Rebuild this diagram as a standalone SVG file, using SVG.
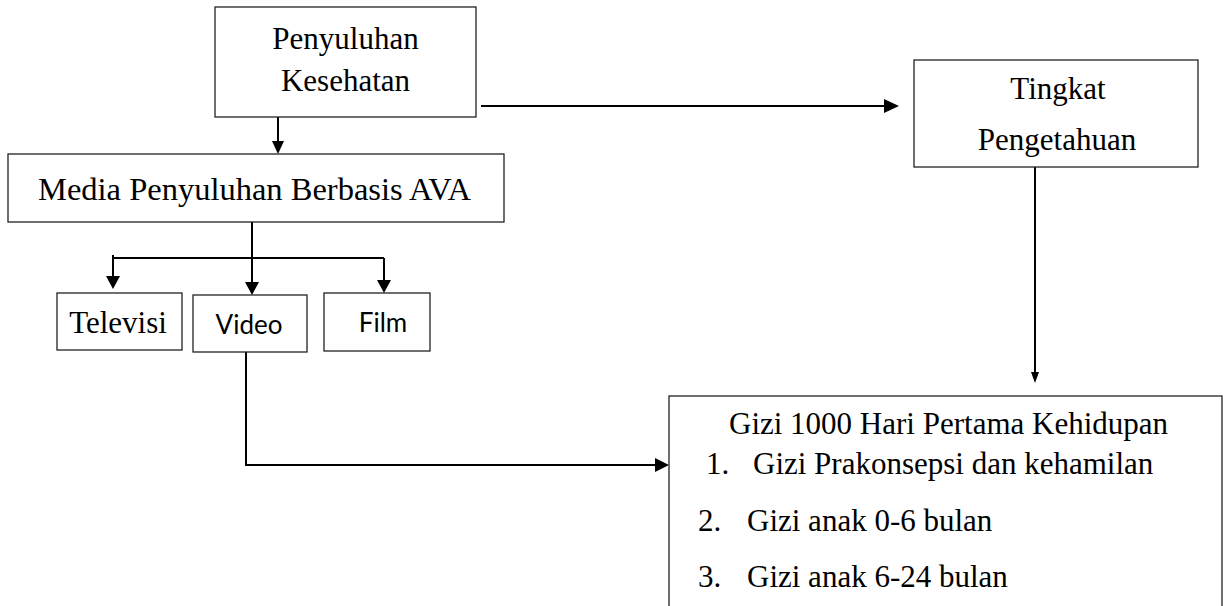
<svg xmlns="http://www.w3.org/2000/svg" width="1225" height="606" viewBox="0 0 1225 606">
<style>
.box{fill:#fff;stroke:#222;stroke-width:1.3}
.t{font-family:"Liberation Serif","Times New Roman",serif;font-size:31px;fill:#000}
.s{font-family:Lato,"Open Sans",sans-serif;font-size:26px;fill:#000}
.c{text-anchor:middle}
.ln{stroke:#000;fill:none;stroke-width:2}
.ah{fill:#000}
</style>
<rect width="1225" height="606" fill="#fff"/>
<g id="connectors">
<line class="ln" x1="278" y1="117" x2="278" y2="142" stroke-width="1.5"/>
<polygon class="ah" points="272,141 284,141 278,154"/>
<line class="ln" x1="481" y1="106" x2="886" y2="106" stroke-width="3"/>
<polygon class="ah" points="884,99 884,113 899,106"/>
<line class="ln" x1="252" y1="222" x2="252" y2="258"/>
<line class="ln" x1="113" y1="258" x2="384" y2="258"/>
<line class="ln" x1="113" y1="255" x2="113" y2="278"/>
<polygon class="ah" points="106,276 120,276 113,289"/>
<line class="ln" x1="252" y1="258" x2="252" y2="283" stroke-width="2.5"/>
<polygon class="ah" points="245,282 259,282 252,295"/>
<line class="ln" x1="384" y1="258" x2="384" y2="281"/>
<polygon class="ah" points="377,280 391,280 384,293"/>
<line class="ln" x1="1035" y1="167" x2="1035" y2="373" stroke-width="1.3"/>
<polygon class="ah" points="1031,372 1039,372 1035,383"/>
<polyline class="ln" points="246,352 246,465 656,465"/>
<polygon class="ah" points="655,458 655,472 669,465"/>
</g>
<g id="penyuluhan">
<rect class="box" x="215" y="7" width="261" height="110"/>
<text class="t c" x="345.5" y="49">Penyuluhan</text>
<text class="t c" x="345.5" y="91">Kesehatan</text>
</g>
<g id="media">
<rect class="box" x="8" y="154" width="496" height="68"/>
<text class="t c" x="254.5" y="200" style="font-size:32.5px">Media Penyuluhan Berbasis AVA</text>
</g>
<g id="televisi">
<rect class="box" x="57" y="293" width="125" height="57"/>
<text class="t c" x="118" y="333">Televisi</text>
</g>
<g id="video">
<rect class="box" x="193" y="295" width="114" height="57"/>
<text class="s c" x="249" y="334">Video</text>
</g>
<g id="film">
<rect class="box" x="324" y="293" width="106" height="58"/>
<text class="s c" x="383" y="332">Film</text>
</g>
<g id="tingkat">
<rect class="box" x="914" y="60" width="284" height="107"/>
<text class="t c" x="1058" y="99">Tingkat</text>
<text class="t c" x="1057" y="150">Pengetahuan</text>
</g>
<g id="gizi">
<rect class="box" x="669" y="396" width="553" height="240"/>
<text class="t" x="729" y="434">Gizi 1000 Hari Pertama Kehidupan</text>
<text class="t" x="706" y="474">1.</text>
<text class="t" x="753" y="474">Gizi Prakonsepsi dan kehamilan</text>
<text class="t" x="698" y="531">2.</text>
<text class="t" x="747" y="531">Gizi anak 0-6 bulan</text>
<text class="t" x="698" y="587">3.</text>
<text class="t" x="747" y="587">Gizi anak 6-24 bulan</text>
</g>
</svg>
